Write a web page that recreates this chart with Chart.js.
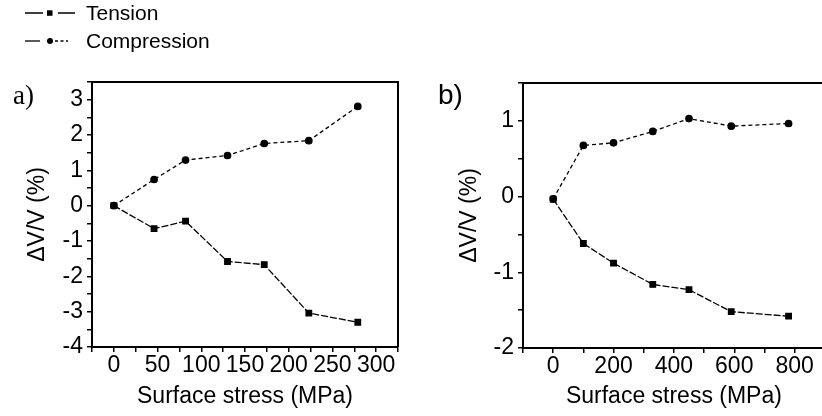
<!DOCTYPE html>
<html>
<head>
<meta charset="utf-8">
<script src="https://cdn.jsdelivr.net/npm/chart.js@4/dist/chart.umd.min.js"></script>
<style>
  html, body { margin: 0; padding: 0; background: #fff; overflow: hidden; }
  body { width: 822px; height: 416px; position: relative; }
  #chartA { position: absolute; left: 0; top: 0; }
  #chartB { position: absolute; left: 420px; top: 0; }
</style>
</head>
<body>
<canvas id="chartA" width="420" height="416"></canvas>
<canvas id="chartB" width="410" height="416"></canvas>
<script>
// panel a) data
const stressA = [0, 46, 82, 130, 172, 223, 279];
const tensionA = [0, -0.65, -0.44, -1.58, -1.67, -3.04, -3.30];
const compressionA = [0, 0.74, 1.29, 1.42, 1.76, 1.84, 2.81];

// panel b) data
const stressB = [0, 100, 200, 330, 450, 590, 780];
const tensionB = [-0.035, -0.62, -0.88, -1.16, -1.23, -1.52, -1.58];
const compressionB = [-0.03, 0.675, 0.71, 0.86, 1.03, 0.93, 0.965];

const seriesNames = ['Tension', 'Compression'];
const xTitle = 'Surface stress (MPa)';
const yTitle = '\u0394V/V (%)';

const FONT = "'Liberation Sans', Arial, sans-serif";
const FONT_SIZE = 23;
const tensionDash = [7, 2];
const compressionDash = [4, 3];

function points(xs, ys) {
    return xs.map((x, i) => ({ x: x, y: ys[i] }));
}

function makeDatasets(xs, tens, comp) {
    return [{
        label: seriesNames[0],
        data: points(xs, tens),
        borderColor: '#000',
        backgroundColor: '#000',
        borderWidth: 1.3,
        borderDash: tensionDash,
        pointStyle: 'rect',
        pointRadius: 3.9,
        pointHoverRadius: 3.9,
        tension: 0
    }, {
        label: seriesNames[1],
        data: points(xs, comp),
        borderColor: '#000',
        backgroundColor: '#000',
        borderWidth: 1.3,
        borderDash: compressionDash,
        pointStyle: 'circle',
        pointRadius: 3.2,
        pointHoverRadius: 3.2,
        tension: 0
    }];
}

// box lines on top and right of the plot area
const framePlugin = {
    id: 'frame',
    afterDraw(chart) {
        const a = chart.chartArea;
        const ctx = chart.ctx;
        ctx.save();
        ctx.strokeStyle = '#000';
        ctx.lineWidth = 2;
        ctx.beginPath();
        ctx.moveTo(a.left, a.top);
        ctx.lineTo(a.right, a.top);
        ctx.lineTo(a.right, a.bottom);
        ctx.stroke();
        ctx.restore();
    }
};

function panelLabel(text, x, y, font) {
    return {
        id: 'label_' + text,
        afterDraw(chart) {
            const ctx = chart.ctx;
            ctx.save();
            ctx.fillStyle = '#000';
            ctx.font = font;
            ctx.textBaseline = 'middle';
            ctx.fillText(text, x, y);
            ctx.restore();
        }
    };
}

// legend in the top left corner with dashed samples
const legendPlugin = {
    id: 'sketchLegend',
    afterDraw(chart) {
        const ctx = chart.ctx;
        ctx.save();
        ctx.strokeStyle = '#000';
        ctx.fillStyle = '#000';
        ctx.lineWidth = 1.3;
        // Tension
        let y = 13;
        ctx.beginPath();
        ctx.moveTo(25, y); ctx.lineTo(43, y);
        ctx.moveTo(58, y); ctx.lineTo(75, y);
        ctx.stroke();
        ctx.fillRect(47, y - 2.7, 5.5, 5.5);
        // Compression
        y = 41;
        ctx.beginPath();
        ctx.moveTo(25, y); ctx.lineTo(40, y);
        ctx.stroke();
        ctx.setLineDash([3, 2.5]);
        ctx.beginPath();
        ctx.moveTo(55, y); ctx.lineTo(68, y);
        ctx.stroke();
        ctx.setLineDash([]);
        ctx.beginPath();
        ctx.arc(50, y, 3, 0, Math.PI * 2);
        ctx.fill();
        ctx.font = '21px ' + FONT;
        ctx.textBaseline = 'middle';
        ctx.fillText(seriesNames[0], 86, 14);
        ctx.fillText(seriesNames[1], 86, 42);
        ctx.restore();
    }
};

function axisCommon() {
    return {
        type: 'linear',
        grid: { drawOnChartArea: false, drawTicks: true, tickLength: 5, color: '#000', lineWidth: 1.5 },
        border: { display: true, color: '#000', width: 2 },
        ticks: { color: '#000', font: { family: FONT, size: FONT_SIZE }, autoSkip: false, maxRotation: 0, padding: 3 }
    };
}

function makeOptions(cfg) {
    const x = axisCommon();
    x.min = cfg.xMin; x.max = cfg.xMax;
    x.ticks.stepSize = cfg.xStep;
    x.ticks.padding = 0;
    x.ticks.callback = v => (v % cfg.xLabelEvery === 0 ? String(v) : '');
    x.title = { display: true, text: xTitle, color: '#000', font: { family: FONT, size: FONT_SIZE }, padding: { top: 0, bottom: 6 } };
    x.afterFit = s => { s.height = cfg.xHeight; };

    const y = axisCommon();
    y.min = cfg.yMin; y.max = cfg.yMax;
    y.ticks.stepSize = 0.5;
    y.ticks.padding = cfg.yPad;
    y.ticks.callback = v => (Number.isInteger(v) ? String(v) : '');
    y.title = { display: true, text: yTitle, color: '#000', font: { family: FONT, size: FONT_SIZE }, padding: { top: cfg.yTitlePad, bottom: 0 } };
    y.afterFit = s => { s.width = cfg.yWidth; };

    return {
        responsive: false,
        devicePixelRatio: 1,
        animation: false,
        layout: { padding: { top: cfg.top, right: cfg.right, left: 0, bottom: 0 } },
        plugins: { legend: { display: false }, tooltip: { enabled: false } },
        scales: { x: x, y: y }
    };
}

new Chart(document.getElementById('chartA'), {
    type: 'line',
    data: { datasets: makeDatasets(stressA, tensionA, compressionA) },
    options: makeOptions({
        xMin: -25, xMax: 325, xStep: 25, xLabelEvery: 50,
        yMin: -4, yMax: 3.5, yPad: 4,
        top: 82, right: 22, xHeight: 69, yWidth: 92, yTitlePad: 24
    }),
    plugins: [framePlugin, legendPlugin, panelLabel('a)', 13, 97, "27px 'Liberation Serif', 'Times New Roman', serif")]
});

new Chart(document.getElementById('chartB'), {
    type: 'line',
    data: { datasets: makeDatasets(stressB, tensionB, compressionB) },
    options: makeOptions({
        xMin: -100, xMax: 900, xStep: 100, xLabelEvery: 200,
        yMin: -2, yMax: 1.5, yPad: 4,
        top: 83, right: 3, xHeight: 68, yWidth: 103, yTitlePad: 36
    }),
    plugins: [framePlugin, panelLabel('b)', 18, 96, '28px ' + FONT)]
});
</script>
</body>
</html>
